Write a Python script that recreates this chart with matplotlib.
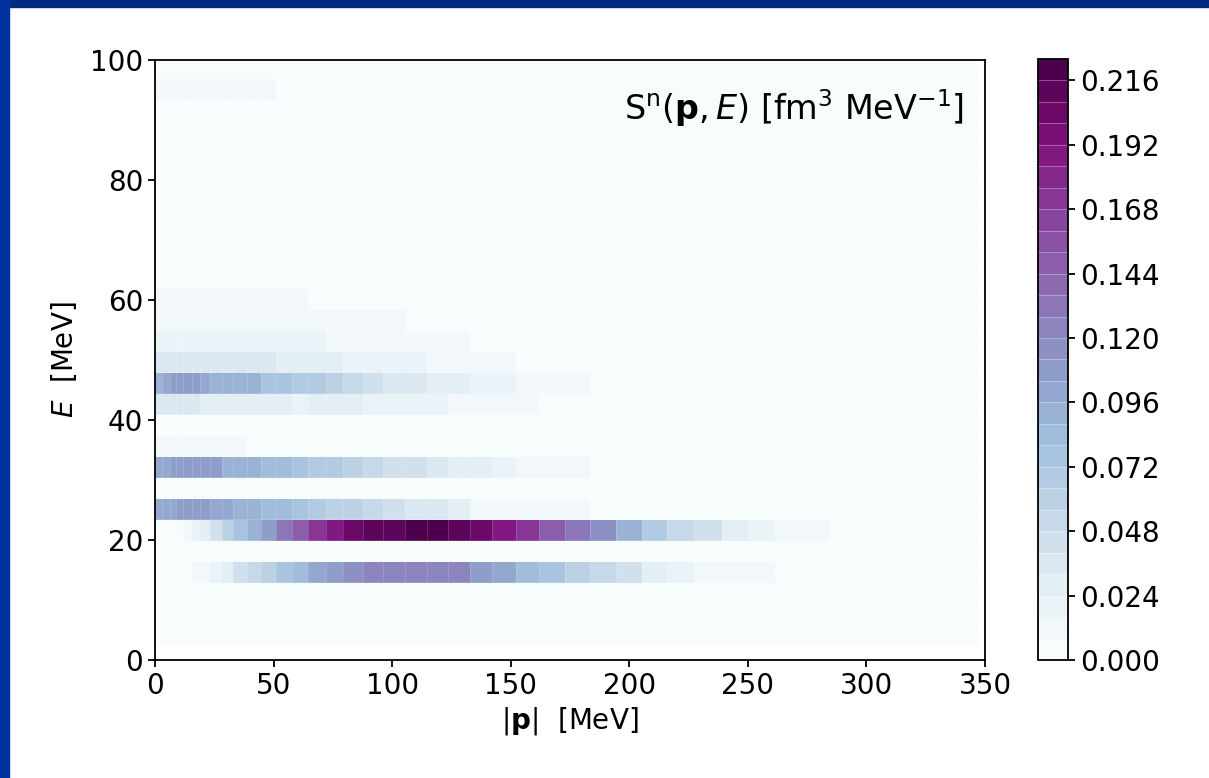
import numpy as np
import matplotlib
matplotlib.use("Agg")
import matplotlib.pyplot as plt
from matplotlib.colors import BoundaryNorm
from matplotlib.patches import Rectangle

# cell edges
p_edges = [0, 3, 6.5, 9, 11.7, 15.5, 19, 23.2, 28.1, 33, 38.6, 44.9, 51.2, 57.6,
           64.6, 72.3, 79.3, 87.7, 96.2, 105.4, 114.6, 123.5, 132.9, 142, 152.1,
           162.1, 172.9, 183.5, 194.3, 205.3, 216.1, 227.1, 239, 250, 261.5,
           273.4, 284.7, 296, 307.5, 319, 330.5, 342, 346.5]
E_edges = [2.5, 6, 9.5, 13, 16.5, 20, 23.5, 27, 30.5, 34, 37.5, 41, 44.5, 48,
           51.5, 55, 58.5, 62, 65.5, 69, 72.5, 76, 79.5, 83, 86.5, 90, 93.5, 97,
           100.5]

# S^n values along |p| for each occupied energy row (rest of the row is ~0)
band_E = [14.75, 21.75, 25.25, 32.25, 35.75, 42.75, 46.25, 49.75, 53.25,
          56.75, 60.25, 95.25]

band_15 = [0, 0, 0, 0, 0.004, 0.01, 0.014, 0.02, 0.03, 0.044, 0.052, 0.06,
           0.076, 0.084, 0.1, 0.108, 0.116, 0.122, 0.122, 0.126, 0.124, 0.12,
           0.11, 0.1, 0.084, 0.076, 0.06, 0.052, 0.044, 0.028, 0.02, 0.014,
           0.01, 0.01]
band_22 = [0.004, 0.004, 0.004, 0.004, 0.012, 0.02, 0.028, 0.044, 0.06, 0.076,
           0.092, 0.108, 0.13, 0.15, 0.168, 0.184, 0.2, 0.21, 0.214, 0.22,
           0.22, 0.212, 0.204, 0.19, 0.17, 0.148, 0.134, 0.116, 0.092, 0.068,
           0.052, 0.044, 0.028, 0.02, 0.014, 0.01]
band_25 = [0.1, 0.1, 0.1, 0.11, 0.11, 0.108, 0.108, 0.096, 0.1, 0.092, 0.092,
           0.084, 0.084, 0.076, 0.068, 0.062, 0.058, 0.052, 0.044, 0.036,
           0.036, 0.028, 0.014, 0.014, 0.01, 0.01, 0.01]
band_32 = [0.1, 0.1, 0.108, 0.108, 0.108, 0.108, 0.108, 0.108, 0.094, 0.094,
           0.094, 0.084, 0.084, 0.076, 0.07, 0.066, 0.058, 0.052, 0.044, 0.044,
           0.036, 0.028, 0.028, 0.02, 0.014, 0.01, 0.01]
band_36 = [0.012, 0.012, 0.012, 0.012, 0.012, 0.012, 0.012, 0.012, 0.012, 0.01]
band_42 = [0.034, 0.034, 0.034, 0.034, 0.034, 0.034, 0.03, 0.03, 0.03, 0.03,
           0.03, 0.03, 0.03, 0.02, 0.026, 0.026, 0.026, 0.018, 0.018, 0.018,
           0.018, 0.012, 0.012, 0.012, 0.012]
band_46 = [0.094, 0.1, 0.108, 0.108, 0.108, 0.108, 0.096, 0.094, 0.088, 0.088,
           0.088, 0.076, 0.076, 0.068, 0.066, 0.06, 0.052, 0.044, 0.036, 0.036,
           0.028, 0.028, 0.02, 0.02, 0.012, 0.01, 0.01]
band_49 = [0.034, 0.034, 0.034, 0.034, 0.034, 0.034, 0.034, 0.034, 0.034,
           0.034, 0.034, 0.034, 0.026, 0.026, 0.026, 0.026, 0.018, 0.018,
           0.018, 0.018, 0.012, 0.012, 0.012, 0.012]
band_53 = [0.018, 0.018, 0.018, 0.018, 0.018, 0.018, 0.018, 0.018, 0.018,
           0.018, 0.018, 0.018, 0.018, 0.018, 0.018, 0.012, 0.012, 0.012,
           0.012, 0.012, 0.012, 0.012]
band_57 = [0.012, 0.012, 0.012, 0.012, 0.012, 0.012, 0.012, 0.012, 0.012,
           0.012, 0.012, 0.012, 0.012, 0.012, 0.012, 0.012, 0.012, 0.012, 0.012]
band_60 = [0.011, 0.011, 0.011, 0.011, 0.011, 0.011, 0.011, 0.011, 0.011,
           0.011, 0.011, 0.011, 0.011, 0.011]
band_95 = [0.01, 0.01, 0.01, 0.01, 0.01, 0.01, 0.01, 0.01, 0.01, 0.01, 0.01,
           0.01]

bands = [band_15, band_22, band_25, band_32, band_36, band_42, band_46,
         band_49, band_53, band_57, band_60, band_95]

Z = np.zeros((len(E_edges) - 1, len(p_edges) - 1))
for e, vals in zip(band_E, bands):
    row = np.searchsorted(E_edges, e) - 1
    Z[row, :len(vals)] = vals

levels = np.linspace(0, 0.224, 29)

plt.rcParams["font.size"] = 20
plt.rcParams["axes.linewidth"] = 1.3
plt.rcParams["xtick.major.size"] = 5
plt.rcParams["ytick.major.size"] = 5
plt.rcParams["xtick.major.width"] = 1.3
plt.rcParams["ytick.major.width"] = 1.3

fig = plt.figure(figsize=(12.09, 7.78), dpi=100)
# slide frame
fig.patches.append(Rectangle((0, 1 - 7 / 778), 1, 7 / 778, transform=fig.transFigure,
                             color="#002a80", zorder=10))
fig.patches.append(Rectangle((0, 0), 9 / 1209, 1, transform=fig.transFigure,
                             color="#0033a0", zorder=10))

ax = fig.add_axes([155 / 1209, 1 - 660 / 778, 830 / 1209, 600 / 778])
cmap = plt.get_cmap("BuPu")
norm = BoundaryNorm(levels, ncolors=cmap.N)
mesh = ax.pcolormesh(p_edges, E_edges, Z, cmap=cmap, norm=norm,
                     edgecolors=(1, 1, 1, 0.15), linewidth=0.4)
ax.set_xlim(0, 350)
ax.set_ylim(0, 100)
ax.set_xticks([0, 50, 100, 150, 200, 250, 300, 350])
ax.set_yticks([0, 20, 40, 60, 80, 100])
ax.set_xlabel(r"$|\mathbf{p}|$  [MeV]")
ax.set_ylabel(r"$E$  [MeV]", labelpad=8)
ax.text(0.975, 0.955, r"S$^{\rm n}(\mathbf{p},E)$ [fm$^3$ MeV$^{-1}$]",
        transform=ax.transAxes, ha="right", va="top", fontsize=24)

cax = fig.add_axes([1038 / 1209, 1 - 660 / 778, 30 / 1209, 601 / 778])
cb = fig.colorbar(mesh, cax=cax, ticks=levels[::3], format="%.3f", drawedges=True)
cb.ax.minorticks_off()
cb.dividers.set_color((1, 1, 1, 0.3))
cb.dividers.set_linewidth(0.8)

fig.savefig("out.png", dpi=100)
